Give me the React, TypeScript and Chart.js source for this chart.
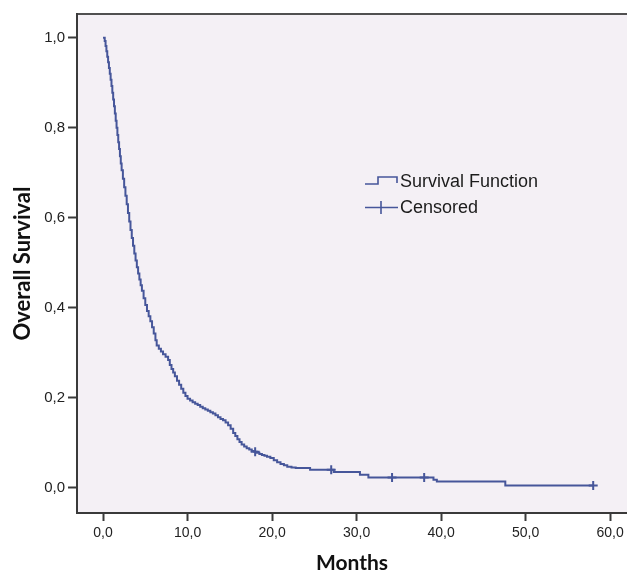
import { useEffect, useRef } from "react";
import { Chart, registerables } from "chart.js";

Chart.register(...registerables);

// Kaplan-Meier curve (months, survival)
const eventMonths = [
  0, 0.15, 0.2, 0.3, 0.4, 0.5, 0.6, 0.7, 0.8, 0.9, 1.0, 1.1, 1.2, 1.3, 1.4, 1.5,
  1.6, 1.7, 1.8, 1.9, 2.0, 2.1, 2.2, 2.35, 2.5, 2.65, 2.8, 2.95, 3.1, 3.25, 3.4,
  3.55, 3.7, 3.85, 4.0, 4.15, 4.3, 4.45, 4.6, 4.8, 5.0, 5.2, 5.4, 5.6, 5.8, 6.0,
  6.2, 6.35, 6.6, 6.85, 7.1, 7.4, 7.7, 7.9, 8.1, 8.3, 8.5, 8.75, 9.0, 9.25, 9.5,
  9.75, 10.0, 10.3, 10.6, 10.9, 11.2, 11.5, 11.8, 12.1, 12.4, 12.7, 13.0, 13.3,
  13.6, 13.9, 14.2, 14.5, 14.8, 15.1, 15.4, 15.65, 15.9, 16.15, 16.4, 16.7, 17.0,
  17.3, 17.6, 17.9, 18.2, 18.5, 18.8, 19.1, 19.4, 19.8, 20.2, 20.6, 21.0, 21.4,
  21.8, 22.3, 22.8, 24.5, 27.3, 30.4, 31.4, 39.1, 39.5, 47.6, 58.0,
];
const survivalValues = [
  1.0, 1.0, 0.993, 0.982, 0.97, 0.958, 0.946, 0.933, 0.92, 0.907, 0.893, 0.878,
  0.863, 0.848, 0.832, 0.816, 0.8, 0.784, 0.768, 0.753, 0.737, 0.721, 0.706,
  0.687, 0.668, 0.649, 0.63, 0.611, 0.592, 0.573, 0.555, 0.538, 0.521, 0.505,
  0.49, 0.476, 0.463, 0.45, 0.438, 0.421, 0.406, 0.393, 0.381, 0.37, 0.357,
  0.343, 0.328, 0.316, 0.309, 0.303, 0.297, 0.291, 0.284, 0.273, 0.264, 0.256,
  0.248, 0.238, 0.229, 0.22, 0.211, 0.204, 0.198, 0.194, 0.19, 0.187, 0.184,
  0.18, 0.177, 0.174, 0.171, 0.168, 0.165, 0.161, 0.157, 0.153, 0.15, 0.145,
  0.139, 0.131, 0.122, 0.115, 0.108, 0.102, 0.096, 0.092, 0.088, 0.085, 0.082,
  0.08, 0.078, 0.075, 0.073, 0.071, 0.069, 0.066, 0.061, 0.057, 0.053, 0.05,
  0.047, 0.045, 0.044, 0.04, 0.035, 0.029, 0.023, 0.018, 0.014, 0.005, 0.005,
];

// Censored observations
const censoredMonths = [18.0, 27.0, 34.2, 38.0, 58.0];
const censoredSurvival = [0.08, 0.04, 0.023, 0.023, 0.005];

// Tick values
const xTickValues = [0, 10, 20, 30, 40, 50, 60];
const yTickValues = [0, 0.2, 0.4, 0.6, 0.8, 1.0];

const legendLabels = ["Survival Function", "Censored"];

const LINE_COLOR = "#46569a";

export default function App() {
  const ref = useRef<HTMLCanvasElement>(null);

  useEffect(() => {
    document.body.style.margin = "0";
    const fmt = (v: number) => Number(v).toFixed(1).replace(".", ",");

    const framePlugin = {
      id: "frame",
      beforeDraw(chart: any) {
        const { ctx, chartArea } = chart;
        ctx.save();
        ctx.fillStyle = "#f4f0f5";
        ctx.fillRect(
          chartArea.left,
          chartArea.top,
          chartArea.right - chartArea.left,
          chartArea.bottom - chartArea.top
        );
        ctx.strokeStyle = "#505050";
        ctx.lineWidth = 2;
        ctx.beginPath();
        ctx.moveTo(chartArea.left, chartArea.top);
        ctx.lineTo(chartArea.right, chartArea.top);
        ctx.stroke();
        ctx.restore();
      },
      afterDraw(chart: any) {
        const { ctx } = chart;
        ctx.save();
        ctx.strokeStyle = LINE_COLOR;
        ctx.lineWidth = 1.6;
        // survival function icon
        ctx.beginPath();
        ctx.moveTo(365, 184);
        ctx.lineTo(378, 184);
        ctx.lineTo(378, 177);
        ctx.lineTo(397, 177);
        ctx.lineTo(397, 183);
        ctx.stroke();
        // censored icon
        ctx.beginPath();
        ctx.moveTo(365, 207.5);
        ctx.lineTo(398, 207.5);
        ctx.moveTo(381, 201);
        ctx.lineTo(381, 214);
        ctx.stroke();
        ctx.fillStyle = "#1c1c1c";
        ctx.font = "18px 'Liberation Sans Narrow', 'Liberation Sans', Arial, sans-serif";
        ctx.textBaseline = "middle";
        ctx.textAlign = "left";
        ctx.fillText(legendLabels[0], 400, 182, 147);
        ctx.fillText(legendLabels[1], 400, 208, 85);
        ctx.restore();
      },
    };

    const chart = new Chart(ref.current!, {
      type: "line",
      data: {
        datasets: [
          {
            label: legendLabels[0],
            data: eventMonths.map((m, i) => ({ x: m, y: survivalValues[i] })),
            borderColor: LINE_COLOR,
            borderWidth: 2,
            stepped: "before",
            pointRadius: 0,
            fill: false,
          },
          {
            label: legendLabels[1],
            data: censoredMonths.map((m, i) => ({ x: m, y: censoredSurvival[i] })),
            showLine: false,
            borderColor: LINE_COLOR,
            backgroundColor: LINE_COLOR,
            pointStyle: "cross",
            pointRadius: 4.5,
            pointBorderWidth: 2,
          },
        ],
      },
      options: {
        responsive: false,
        animation: false,
        layout: { autoPadding: false, padding: { top: 14, right: 0, bottom: 0, left: 0 } },
        plugins: {
          legend: { display: false },
          tooltip: { enabled: false },
        },
        scales: {
          x: {
            type: "linear",
            min: -3.08,
            max: 62.0,
            afterBuildTicks: (s: any) => {
              s.ticks = xTickValues.map((v) => ({ value: v }));
            },
            afterFit: (s: any) => {
              s.height = 63;
              s.paddingLeft = 0;
              s.paddingRight = 0;
            },
            grid: {
              display: true,
              drawOnChartArea: false,
              drawTicks: true,
              tickLength: 8,
              tickWidth: 2,
              tickColor: "#3a3a3a",
            },
            border: { display: true, color: "#3a3a3a", width: 2 },
            ticks: {
              callback: (v: any) => fmt(v),
              font: { family: "'Liberation Sans', Arial, sans-serif", size: 14 },
              color: "#222",
              padding: 4,
              maxRotation: 0,
              autoSkip: false,
            },
            title: {
              display: true,
              text: "Months",
              font: { family: "Lato, 'Open Sans', sans-serif", weight: "bold", size: 21 },
              color: "#111",
              padding: { top: 0, bottom: 0 },
            },
          },
          y: {
            type: "linear",
            min: -0.056,
            max: 1.053,
            afterBuildTicks: (s: any) => {
              s.ticks = yTickValues.map((v) => ({ value: v }));
            },
            afterFit: (s: any) => {
              s.width = 77;
              s.paddingTop = 0;
              s.paddingBottom = 0;
            },
            grid: {
              display: true,
              drawOnChartArea: false,
              drawTicks: true,
              tickLength: 9,
              tickWidth: 2,
              tickColor: "#3a3a3a",
            },
            border: { display: true, color: "#3a3a3a", width: 2 },
            ticks: {
              callback: (v: any) => fmt(v),
              font: { family: "'Liberation Sans', Arial, sans-serif", size: 15 },
              color: "#222",
              padding: 3,
              autoSkip: false,
            },
            title: {
              display: true,
              text: "Overall Survival",
              font: { family: "Lato, 'Open Sans', sans-serif", weight: "bold", size: 22 },
              color: "#111",
              padding: { top: 10, bottom: 0 },
            },
          },
        },
      },
      plugins: [framePlugin],
    } as any);

    return () => chart.destroy();
  }, []);

  return (
    <div style={{ width: 627, height: 576, background: "#ffffff" }}>
      <canvas ref={ref} width={627} height={576} style={{ display: "block" }} />
    </div>
  );
}
